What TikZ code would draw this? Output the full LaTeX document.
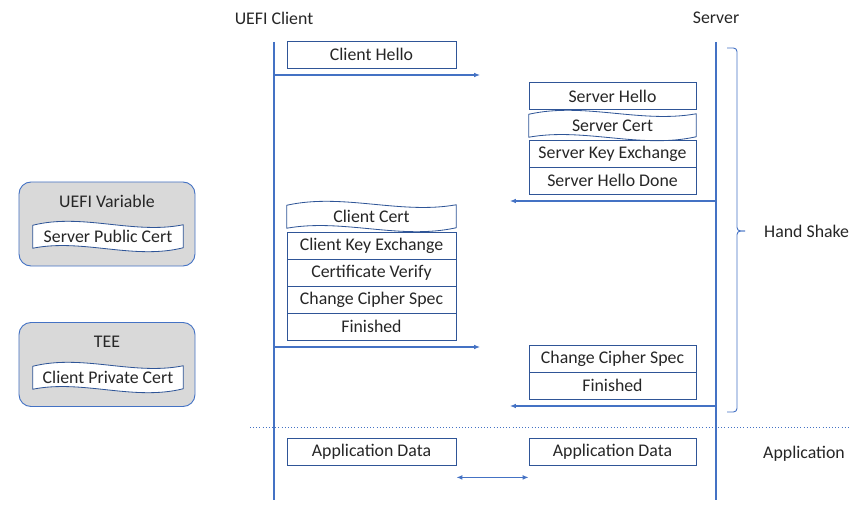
\documentclass[tikz,border=0pt]{standalone}
\usepackage{fontspec}
\setmainfont{Carlito}
\usetikzlibrary{calc,arrows.meta}

\definecolor{bleu}{RGB}{68,114,196}
\definecolor{bleufonce}{RGB}{47,85,151}
\definecolor{texte}{RGB}{38,38,38}
\definecolor{gris}{RGB}{217,217,217}

% boite a bords ondules : nom, position, largeur, texte
\newcommand{\vague}[4]{%
  \node[onde,minimum width=#3] (#1) at (#2) {};
  \draw[cadre,fill=white] ($(#1.north west)+(0,1.5)$)
    .. controls ($(#1.north west)!0.33!(#1.north east)+(0,-11)$) and ($(#1.north west)!0.67!(#1.north east)+(0,11)$) .. ($(#1.north east)+(0,1)$)
    -- ($(#1.south east)+(0,-1.5)$)
    .. controls ($(#1.south west)!0.67!(#1.south east)+(0,11)$) and ($(#1.south west)!0.33!(#1.south east)+(0,-11)$) .. ($(#1.south west)+(0,-1)$)
    -- cycle;
  \node[etiq] (#1-t) at (#1) {#4};}

\begin{document}
\begin{tikzpicture}[x=0.03cm,y=-0.03cm,font=\fontsize{15.2}{18}\selectfont,text=texte]
 % les styles
  \tikzstyle{cadre}=[draw=bleufonce,line width=0.7pt]
  \tikzstyle{boite}=[rectangle,cadre,minimum height=0.81cm,inner sep=0pt]
  \tikzstyle{onde}=[rectangle,minimum height=0.75cm,inner sep=0pt]
  \tikzstyle{etiq}=[inner sep=0pt]
  \tikzstyle{vie}=[draw=bleu,line width=0.9pt]
  \tikzstyle{fleche}=[->,>={Latex[length=5pt,width=4pt]},draw=bleu,line width=0.9pt]
  \tikzstyle{memoire}=[rectangle,rounded corners=0.36cm,draw=bleu,line width=0.8pt,fill=gris,minimum width=5.28cm,minimum height=2.52cm]
  \useasboundingbox (0,0) rectangle (861,513);
 % les lignes de vie
  \node[etiq] (client) at (274,18) {UEFI Client};
  \node[etiq] (serveur) at (716,18) {Server};
  \coordinate (cHaut) at (274,42);  \coordinate (cBas) at (274,500);
  \coordinate (sHaut) at (716,42);  \coordinate (sBas) at (716,500);
  \draw[vie] (cHaut)--(cBas);
  \draw[vie] (sHaut)--(sBas);
 % les messages
  \node[boite,minimum width=5.07cm] (chello) at (371.5,54.5) {Client Hello};
  \node[boite,minimum width=5.01cm] (shello) at (612.5,96) {Server Hello};
  \vague{scert}{612.5,125.5}{5.01cm}{Server Cert}
  \node[boite,minimum width=5.01cm] (skey) at (612.5,153.5) {Server Key Exchange};
  \node[boite,minimum width=5.01cm] (sdone) at (612.5,180.5) {Server Hello Done};
  \vague{ccert}{371.5,216.5}{5.07cm}{Client Cert}
  \node[boite,minimum width=5.07cm] (ckey) at (371.5,245.5) {Client Key Exchange};
  \node[boite,minimum width=5.07cm] (cverif) at (371.5,272.5) {Certificate Verify};
  \node[boite,minimum width=5.07cm] (cccs) at (371.5,299.5) {Change Cipher Spec};
  \node[boite,minimum width=5.07cm] (cfin) at (371.5,326.5) {Finished};
  \node[boite,minimum width=5.01cm] (sccs) at (612.5,358.5) {Change Cipher Spec};
  \node[boite,minimum width=5.01cm] (sfin) at (612.5,385.5) {Finished};
  \node[boite,minimum width=5.07cm] (capp) at (371.5,451.5) {Application Data};
  \node[boite,minimum width=5.01cm] (sapp) at (612.5,451.5) {Application Data};
 % les fleches
  \coordinate (m1) at (480,75);  \coordinate (m2) at (510,201);
  \coordinate (m3) at (480,347); \coordinate (m4) at (510,406);
  \draw[fleche] (cHaut |- m1)--(m1);
  \draw[fleche] (sHaut |- m2)--(m2);
  \draw[fleche] (cHaut |- m3)--(m3);
  \draw[fleche] (sHaut |- m4)--(m4);
  \draw[fleche,<->] ([yshift=-0.36cm]capp.south east)--([yshift=-0.36cm]sapp.south west);
 % la separation
  \coordinate (sepG) at (250,427); \coordinate (sepD) at (850,427);
  \draw[draw=bleu,dotted,line width=0.7pt] (sepG)--(sepD);
 % l'accolade
  \draw[vie,line width=0.8pt,rounded corners=3pt] (727,48)--(737,48)--(737,231)--(745,231);
  \draw[vie,line width=0.8pt,rounded corners=3pt] (745,231)--(737,231)--(737,412)--(727,412);
  \node[etiq,anchor=west] (hs) at (764,231) {Hand Shake};
  \node[etiq,anchor=west] (appli) at (763,454) {Application};
 % les memoires
  \node[memoire] (uefi) at (107,224) {};
  \node[etiq] (uefi-t) at (107,201) {UEFI Variable};
  \vague{spub}{108,236.5}{4.5cm}{Server Public Cert}
  \node[memoire] (tee) at (107,364.5) {};
  \node[etiq] (tee-t) at (107,342) {TEE};
  \vague{cpriv}{108,377.5}{4.5cm}{Client Private Cert}
\end{tikzpicture}
\end{document}
